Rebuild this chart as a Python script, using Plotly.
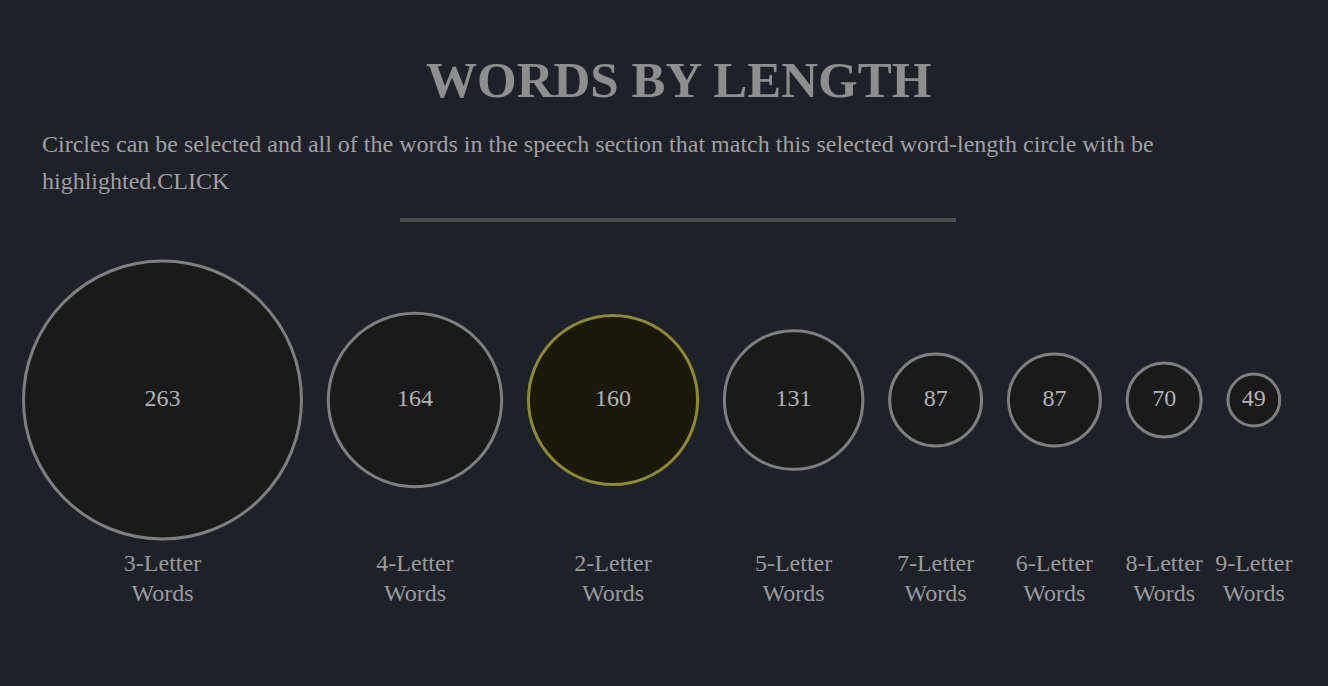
import plotly.graph_objects as go

# ---- data ----
categories = ["3-Letter", "4-Letter", "2-Letter", "5-Letter", "7-Letter", "6-Letter", "8-Letter", "9-Letter"]
counts = [263, 164, 160, 131, 87, 87, 70, 49]
selected = "2-Letter"
title_text = "WORDS BY LENGTH"
subtitle_lines = [
    "Circles can be selected and all of the words in the speech section that match this selected word-length circle with be",
    "highlighted.CLICK",
]

# ---- layout constants ----
W, H = 1328, 686
BG = "#1f2128"
FONT = "Liberation Serif, Times New Roman, serif"
scale = 139.0 / 263.0   # radius (px) per word
pad = 26.8              # gap between circle stroke centerlines
start_left = 23.5
cy = 400

radii = [c * scale for c in counts]
xs = []
x = start_left
for r in radii:
    x += r
    xs.append(x)
    x += r + pad

fills = ["#1b1a0a" if c == selected else "#1a1a1a" for c in categories]
strokes = ["#8c8a32" if c == selected else "#7f7f7f" for c in categories]

fig = go.Figure()
fig.add_trace(go.Scatter(
    x=xs, y=[cy] * len(xs), mode="markers+text",
    marker=dict(size=[2 * r for r in radii], color=fills,
                line=dict(color=strokes, width=3), opacity=1),
    text=[str(c) for c in counts], textposition="middle center",
    textfont=dict(family=FONT, size=24, color="#b3b3b3"),
    hoverinfo="skip", cliponaxis=False, showlegend=False,
))
fig.add_trace(go.Scatter(
    x=xs, y=[565] * len(xs), mode="text",
    text=categories, textposition="middle center",
    textfont=dict(family=FONT, size=24, color="#9a9a9a"),
    hoverinfo="skip", cliponaxis=False, showlegend=False,
))
fig.add_trace(go.Scatter(
    x=xs, y=[595] * len(xs), mode="text",
    text=["Words"] * len(xs), textposition="middle center",
    textfont=dict(family=FONT, size=24, color="#9a9a9a"),
    hoverinfo="skip", cliponaxis=False, showlegend=False,
))

annotations = [
    dict(x=678, y=80, text="<b>" + title_text + "</b>", showarrow=False,
         xanchor="center", yanchor="middle",
         font=dict(family=FONT, size=51, color="#8e8e8e")),
    dict(x=40, y=144, text=subtitle_lines[0], showarrow=False,
         xanchor="left", yanchor="middle",
         font=dict(family=FONT, size=24, color="#a0a0a0")),
    dict(x=40, y=181, text=subtitle_lines[1], showarrow=False,
         xanchor="left", yanchor="middle",
         font=dict(family=FONT, size=24, color="#a0a0a0")),
]
for a in annotations:
    a.update(xref="x", yref="y")

fig.update_layout(
    width=W, height=H,
    margin=dict(l=0, r=0, t=0, b=0),
    paper_bgcolor=BG, plot_bgcolor=BG,
    xaxis=dict(range=[0, W], visible=False, fixedrange=True),
    yaxis=dict(range=[H, 0], visible=False, fixedrange=True),
    annotations=annotations,
    shapes=[dict(type="line", xref="x", yref="y", x0=400, x1=956, y0=220, y1=220,
                 line=dict(color="#4d4d4d", width=4))],
    showlegend=False,
)

fig.write_html("out.html", config={"displayModeBar": False})
